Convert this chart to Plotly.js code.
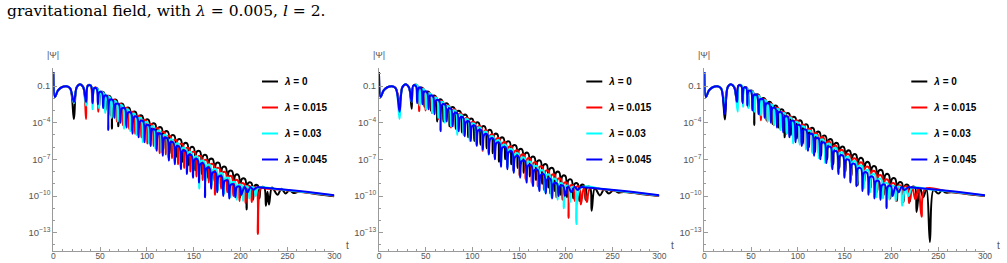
<!DOCTYPE html>
<html>
<head>
<meta charset="utf-8">
<script src="https://cdn.plot.ly/plotly-3.0.1.min.js"></script>
<style>html,body{margin:0;padding:0;background:#fff;}#plot{width:1007px;height:263px;}</style>
</head>
<body>
<div id="plot"></div>
<script>
// Values are [t, log10|Psi|] pairs
const lambdas = ['0', '0.015', '0.03', '0.045'];
const colors = ['#000000', '#ff0000', '#00ffff', '#0000ff'];
const xTicks = [0, 50, 100, 150, 200, 250, 300];
const yTickVals = [1e-1, 1e-4, 1e-7, 1e-10, 1e-13];
const yTickText = ['0.1', '10<sup>−4</sup>', '10<sup>−7</sup>', '10<sup>−10</sup>', '10<sup>−13</sup>'];
const yMinorVals = [1, 1e-2, 1e-3, 1e-5, 1e-6, 1e-8, 1e-9, 1e-11, 1e-12, 1e-14];

// ---- Panel 1 ----
const b1 = [[0,0.15],[1.8,-1.9],[5,-1.35],[9,-1.1],[14,-1.02],[18,-1.2],[22,-3.7],[25,-1.1],[28.5,-0.85],[32,-1.1],[35,-2.6],
[36.8,-0.97],[40.2,-0.97],[42,-2.3],[43.7,-1.2],[47.1,-1.2],[48.9,-2.7],[50.6,-1.53],[54,-1.53],[55.7,-3.0],[57.4,-1.85],[60.8,-1.85],[62.6,-4.5],
[64.3,-2.17],[67.7,-2.17],[69.4,-4.3],[71.1,-2.49],[74.5,-2.49],[76.3,-4.2],[78,-2.82],[81.4,-2.82],[83.1,-4.6],[84.8,-3.14],[88.2,-3.14],[90,-4.9],
[91.7,-3.46],[95.1,-3.46],[96.8,-5.2],[98.5,-3.78],[101.9,-3.78],[103.7,-5.5],[105.4,-4.1],[108.8,-4.1],[110.5,-5.8],[112.2,-4.42],[115.6,-4.42],[117.4,-6.2],
[119.1,-4.75],[122.5,-4.75],[124.2,-6.5],[125.9,-5.07],[129.3,-5.07],[131.1,-6.8],[132.8,-5.39],[136.2,-5.39],[137.9,-7.2],[139.6,-5.71],[143,-5.71],[144.8,-7.5],
[146.5,-6.04],[149.9,-6.04],[151.6,-7.9],[153.3,-6.36],[156.7,-6.36],[158.5,-8.2],[160.2,-6.68],[163.6,-6.68],[165.3,-8.5],[167,-7.0],[170.4,-7.0],[172.2,-8.8],
[173.9,-7.32],[177.3,-7.32],[179,-9.1],[180.7,-7.64],[184.1,-7.64],[185.9,-9.5],[187.6,-7.97],[191,-7.97],[192.7,-9.8],[194.4,-8.29],[197.8,-8.29],[199.6,-10.1],
[201.3,-8.61],[204.7,-8.61],[206.4,-11.1],[208.1,-8.93],[211.5,-8.93],[213.3,-10.3],[215,-9.15],[218.4,-9.15],[220.1,-10.2],[221.8,-9.3],[225.2,-9.3],[227,-10.8],
[228.7,-9.65],[230.3,-10.7],[233.5,-9.3],[239.5,-9.9],[243.5,-9.4],[248,-9.8],[252,-9.52],[256.5,-9.75],[262,-9.66],[280,-9.83],[300,-10.02]];
const r1 = [[0,0.15],[1.8,-1.9],[5,-1.35],[9,-1.1],[14,-1.02],[18,-1.2],[22,-2.4],[25,-1.1],[28.5,-0.85],[32,-1.1],[35,-3.7],
[36.7,-0.95],[39.9,-0.95],[41.6,-2.4],[43.2,-1.19],[46.4,-1.19],[48.1,-3.1],[49.8,-1.52],[53,-1.52],[54.7,-2.9],[56.3,-1.85],[59.5,-1.85],[61.2,-3.4],
[62.9,-2.18],[66.1,-2.18],[67.8,-3.9],[69.4,-2.5],[72.6,-2.5],[74.3,-4.2],[76,-2.83],[79.2,-2.83],[80.9,-4.5],[82.5,-3.16],[85.7,-3.16],[87.4,-4.9],
[89.1,-3.49],[92.3,-3.49],[94,-5.2],[95.6,-3.81],[98.8,-3.81],[100.5,-5.7],[102.2,-4.14],[105.4,-4.14],[107.1,-5.9],[108.7,-4.47],[111.9,-4.47],[113.6,-6.5],
[115.3,-4.8],[118.5,-4.8],[120.2,-6.6],[121.8,-5.12],[125,-5.12],[126.7,-6.9],[128.4,-5.45],[131.6,-5.45],[133.3,-7.4],[134.9,-5.78],[138.1,-5.78],[139.8,-7.7],
[141.5,-6.11],[144.7,-6.11],[146.4,-8.0],[148,-6.43],[151.2,-6.43],[152.9,-8.4],[154.6,-6.76],[157.8,-6.76],[159.5,-8.7],[161.1,-7.09],[164.3,-7.09],[166,-8.9],
[167.7,-7.42],[170.9,-7.42],[172.6,-9.9],[174.2,-7.74],[177.4,-7.74],[179.1,-9.4],[180.8,-8.07],[184,-8.07],[185.7,-9.7],[187.3,-8.4],[190.5,-8.4],[192.2,-10.0],
[193.9,-8.73],[197.1,-8.73],[198.8,-10.4],[200.4,-9.0],[203.6,-9.0],[205.3,-10.6],[207,-9.22],[210.2,-9.22],[211.9,-10.5],[213.6,-9.33],[216.7,-9.33],[218.4,-13.1],
[221.5,-9.35],[226,-9.38],[240,-9.47],[270,-9.72],[300,-9.98]];
const c1 = [[0,0.15],[1.8,-1.9],[5,-1.35],[9,-1.1],[14,-1.02],[18,-1.2],[22,-2.4],[25,-1.1],[28.5,-0.85],[32,-1.1],[35,-2.6],
[36.8,-0.97],[40.2,-0.97],[42,-2.9],[43.7,-1.23],[47.1,-1.23],[48.7,-2.8],[50.4,-1.58],[53.8,-1.58],[55.4,-3.2],[57.1,-1.93],[60.5,-1.93],[62.1,-3.6],
[63.8,-2.28],[67.2,-2.28],[68.8,-3.9],[70.5,-2.62],[73.9,-2.62],[75.5,-4.5],[77.1,-2.97],[80.5,-2.97],[82.1,-4.7],[83.8,-3.32],[87.2,-3.32],[88.8,-5.0],
[90.5,-3.66],[93.9,-3.66],[95.5,-5.6],[97.2,-4.01],[100.6,-4.01],[102.2,-5.7],[103.9,-4.36],[107.3,-4.36],[108.9,-6.1],[110.6,-4.71],[114,-4.71],[115.6,-6.4],
[117.3,-5.06],[120.7,-5.06],[122.3,-6.8],[124,-5.41],[127.4,-5.41],[129,-7.1],[130.7,-5.75],[134.1,-5.75],[135.7,-7.5],[137.4,-6.1],[140.8,-6.1],[142.4,-7.9],
[144.1,-6.45],[147.5,-6.45],[149.1,-8.1],[150.8,-6.8],[154.2,-6.8],[155.8,-9.4],[157.5,-7.15],[160.9,-7.15],[162.5,-8.8],[164.1,-7.49],[167.5,-7.49],[169.1,-9.1],
[170.8,-7.84],[174.2,-7.84],[175.8,-9.5],[177.5,-8.19],[180.9,-8.19],[182.5,-9.8],[184.2,-8.54],[187.6,-8.54],[189.2,-10.1],[190.9,-8.89],[194.3,-8.89],[195.9,-10.3],
[197.6,-9.12],[201,-9.12],[202.6,-10.4],[204.3,-9.27],[207.7,-9.27],[209.3,-10.2],[211,-9.33],[214.4,-9.33],[216,-10.0],[219,-9.33],[240,-9.45],[270,-9.7],[300,-9.96]];
const u1 = [[0,0.15],[1.8,-1.9],[5,-1.35],[9,-1.1],[14,-1.02],[18,-1.2],[22,-2.3],[25,-1.1],[28.5,-0.85],[32,-1.1],[35,-2.3],
[36.8,-0.97],[40.2,-0.97],[42,-2.4],[43.5,-1.2],[46.1,-1.2],[47.6,-2.5],[49.1,-1.5],[51.7,-1.5],[53.2,-2.8],[54.7,-1.8],[57.3,-1.8],[58.7,-4.6],
[60.3,-2.14],[63.6,-2.14],[65.2,-3.6],[66.8,-2.48],[70,-2.48],[71.6,-4.0],[73.3,-2.83],[76.5,-2.83],[78.1,-4.4],[79.7,-3.18],[82.9,-3.18],[84.5,-4.9],
[86.2,-3.53],[89.4,-3.53],[91,-5.2],[92.7,-3.88],[95.9,-3.88],[97.5,-5.6],[99.1,-4.23],[102.3,-4.23],[103.9,-5.9],[105.6,-4.58],[108.8,-4.58],[110.4,-6.3],
[112,-4.92],[115.2,-4.92],[116.8,-6.7],[118.5,-5.28],[121.7,-5.28],[123.3,-7.1],[125,-5.63],[128.2,-5.63],[129.8,-7.4],[131.4,-5.97],[134.6,-5.97],[136.2,-7.8],
[137.9,-6.32],[141.1,-6.32],[142.7,-8.2],[144.3,-6.67],[147.5,-6.67],[149.1,-8.5],[150.8,-7.02],[154,-7.02],[155.6,-8.9],[157.2,-7.37],[160.4,-7.37],[162,-10.1],
[163.7,-7.72],[166.9,-7.72],[168.5,-9.4],[170.2,-8.07],[173.4,-8.07],[175,-9.7],[176.6,-8.41],[179.8,-8.41],[181.4,-10.0],[183.1,-8.76],[186.3,-8.76],[187.9,-10.2],
[189.5,-9.08],[192.7,-9.08],[194.3,-10.1],[196,-9.26],[199.2,-9.26],[200.8,-9.9],[204.1,-9.25],[207.3,-9.7],[210.5,-9.28],[213.7,-9.5],[216.9,-9.3],[222,-9.3],
[240,-9.42],[270,-9.66],[300,-9.93]];

// ---- Panel 2 ----
const b2 = [[0,0.15],[1.8,-1.9],[5,-1.35],[9,-1.1],[14,-1.02],[18,-1.2],[22,-2.4],[25,-1.1],[28.5,-0.85],[32,-1.1],[35,-2.85],
[36.8,-0.97],[40.1,-0.97],[41.8,-2.3],[43.5,-1.19],[46.9,-1.19],[48.6,-2.7],[50.3,-1.51],[53.7,-1.51],[55.4,-3.0],[57.2,-1.84],[60.6,-1.84],[62.3,-3.9],
[64,-2.15],[67.2,-2.15],[68.9,-3.9],[70.6,-2.46],[73.8,-2.46],[75.5,-4.3],[77.2,-2.77],[80.4,-2.77],[82.1,-4.5],[83.8,-3.08],[87,-3.08],[88.7,-4.8],
[90.4,-3.4],[93.8,-3.4],[95.4,-5.2],[97.1,-3.71],[100.3,-3.71],[102,-5.5],[103.7,-4.02],[106.9,-4.02],[108.6,-5.8],[110.3,-4.33],[113.5,-4.33],[115.2,-6.1],
[116.9,-4.64],[120.1,-4.64],[121.8,-6.5],[123.5,-4.95],[126.7,-4.95],[128.4,-7.2],[130.1,-5.26],[133.3,-5.26],[135,-7.0],[136.7,-5.57],[139.9,-5.57],[141.6,-7.4],
[143.3,-5.89],[146.7,-5.89],[148.3,-7.7],[150,-6.2],[153.2,-6.2],[154.9,-8.1],[156.6,-6.51],[159.8,-6.51],[161.5,-8.4],[163.2,-6.82],[166.4,-6.82],[168.1,-8.7],
[169.8,-7.13],[173,-7.13],[174.7,-9.0],[176.4,-7.44],[179.6,-7.44],[181.3,-9.3],[183,-7.75],[186.4,-7.75],[188,-9.6],[189.7,-8.06],[192.9,-8.06],[194.6,-9.9],
[196.3,-8.37],[199.5,-8.37],[201.2,-10.1],[202.9,-8.68],[206.1,-8.68],[207.8,-10.2],[209.5,-8.99],[212.7,-8.99],[214.4,-10.4],[216.1,-9.12],[219.3,-9.12],[221,-10.3],
[222.7,-9.28],[225.9,-9.28],[227.6,-11.2],[231,-9.35],[236.5,-9.95],[241,-9.45],[246,-9.8],[251,-9.52],[256,-9.72],[262,-9.67],[280,-9.83],[300,-10.0]];
const r2 = [[0,0.15],[1.8,-1.9],[5,-1.35],[9,-1.1],[14,-1.02],[18,-1.2],[22,-2.4],[25,-1.1],[28.5,-0.85],[32,-1.1],[35,-2.3],
[37,-0.95],[41,-0.95],[43,-3.06],[44.7,-1.27],[48.1,-1.27],[49.8,-3.0],[51.5,-1.61],[54.9,-1.61],[56.6,-3.2],[58.3,-1.95],[61.7,-1.95],[63.4,-3.7],
[65.1,-2.29],[68.5,-2.29],[70.2,-3.9],[71.9,-2.63],[75.3,-2.63],[77,-4.4],[78.7,-2.97],[82.1,-2.97],[83.8,-4.6],[85.5,-3.31],[88.9,-3.31],[90.6,-5.0],
[92.3,-3.65],[95.7,-3.65],[97.4,-5.4],[99.1,-3.99],[102.5,-3.99],[104.2,-5.7],[105.9,-4.33],[109.3,-4.33],[111,-6.3],[112.7,-4.67],[115.9,-4.67],[117.6,-6.5],
[119.3,-5.0],[122.5,-5.0],[124.1,-6.9],[125.8,-5.32],[129,-5.32],[130.7,-7.2],[132.4,-5.65],[135.6,-5.65],[137.2,-7.6],[138.9,-5.98],[142.1,-5.98],[143.8,-7.9],
[145.5,-6.31],[148.7,-6.31],[150.4,-8.3],[152.1,-6.64],[155.3,-6.64],[156.9,-8.6],[158.6,-6.96],[161.8,-6.96],[163.5,-8.9],[165.2,-7.29],[168.4,-7.29],[170,-9.2],
[171.7,-7.62],[174.9,-7.62],[176.6,-9.5],[178.3,-7.95],[181.5,-7.95],[183.2,-9.8],[184.9,-8.28],[188.1,-8.28],[189.7,-10.1],[191.4,-8.6],[194.6,-8.6],[196.3,-10.3],
[198,-8.93],[201.2,-8.93],[202.9,-11.8],[204.6,-9.15],[207.8,-9.15],[209.5,-10.4],[211.2,-9.26],[214.4,-9.26],[216,-10.7],[219.3,-9.3],[222.5,-10.5],[226,-9.36],
[240,-9.47],[270,-9.72],[300,-9.98]];
const c2 = [[0,0.15],[1.8,-1.9],[5,-1.35],[9,-1.1],[14,-1.02],[18,-1.2],[22,-3.7],[25,-1.1],[28.5,-0.85],[32,-1.1],[35,-2.3],
[37.2,-0.95],[41.2,-0.95],[43.5,-2.6],[45.2,-1.31],[48.6,-1.31],[50.2,-2.9],[51.9,-1.66],[55.3,-1.66],[56.9,-3.2],[58.6,-2.01],[62,-2.01],[63.6,-3.6],
[65.3,-2.35],[68.7,-2.35],[70.3,-4.0],[72,-2.7],[75.4,-2.7],[77,-4.3],[78.7,-3.05],[82.1,-3.05],[83.7,-5.0],[85.4,-3.4],[88.8,-3.4],[90.4,-5.0],
[92.1,-3.75],[95.5,-3.75],[97.1,-5.5],[98.8,-4.1],[102.2,-4.1],[103.8,-5.8],[105.5,-4.44],[108.9,-4.44],[110.5,-6.2],[112.2,-4.79],[115.6,-4.79],[117.3,-6.6],
[119,-5.15],[122.4,-5.15],[124,-6.9],[125.7,-5.49],[129.1,-5.49],[130.7,-7.3],[132.4,-5.84],[135.8,-5.84],[137.4,-7.7],[139.1,-6.19],[142.5,-6.19],[144.1,-8.0],
[145.8,-6.54],[149.2,-6.54],[150.8,-8.4],[152.5,-6.89],[155.9,-6.89],[157.5,-8.7],[159.2,-7.24],[162.6,-7.24],[164.3,-9.1],[166,-7.59],[169.4,-7.59],[171,-9.4],
[172.7,-7.94],[176.1,-7.94],[177.7,-9.7],[179.4,-8.29],[182.8,-8.29],[184.4,-10.1],[186.1,-8.64],[189.5,-8.64],[191.1,-10.3],[192.8,-8.99],[196.2,-8.99],[197.8,-11.0],
[199.5,-9.2],[202.9,-9.2],[204.5,-10.5],[206.2,-9.3],[209.6,-9.3],[211.2,-12.3],[216,-9.32],[240,-9.45],[270,-9.7],[300,-9.96]];
const u2 = [[0,0.15],[1.8,-1.9],[5,-1.35],[9,-1.1],[14,-1.02],[18,-1.2],[22,-3.1],[25,-1.1],[28.5,-0.85],[32,-1.1],[35,-2.3],
[36.6,-0.97],[39.3,-0.97],[40.8,-2.4],[42.4,-1.15],[45,-1.15],[46.5,-2.5],[48.2,-1.48],[51.4,-1.48],[53,-2.9],[54.6,-1.82],[57.8,-1.82],[59.4,-3.3],
[61.1,-2.18],[64.3,-2.18],[65.9,-4.7],[67.6,-2.53],[70.8,-2.53],[72.4,-3.9],[74,-2.87],[77.2,-2.87],[78.8,-4.3],[80.5,-3.22],[83.7,-3.22],[85.3,-4.7],
[86.9,-3.57],[90.1,-3.57],[91.7,-5.1],[93.4,-3.92],[96.6,-3.92],[98.2,-5.5],[99.9,-4.27],[103.1,-4.27],[104.7,-5.9],[106.3,-4.62],[109.5,-4.62],[111.1,-6.2],
[112.8,-4.97],[116,-4.97],[117.6,-6.6],[119.2,-5.31],[122.4,-5.31],[124,-7.0],[125.7,-5.66],[128.9,-5.66],[130.5,-7.6],[132.3,-6.03],[135.7,-6.03],[137.4,-7.8],
[139.1,-6.39],[142.5,-6.39],[144.2,-8.1],[146,-6.77],[149.4,-6.77],[151.1,-8.5],[152.8,-7.13],[156.2,-7.13],[157.9,-8.9],[159.7,-7.51],[163.1,-7.51],[164.8,-9.2],
[166.5,-7.87],[169.9,-7.87],[171.6,-9.6],[173.4,-8.25],[176.8,-8.25],[178.5,-9.8],[180.2,-8.61],[183.6,-8.61],[185.3,-10.2],[187.1,-8.97],[190.5,-8.97],[192.2,-10.0],
[193.9,-9.18],[197.3,-9.18],[199,-10.0],[202.5,-9.2],[205.9,-9.7],[209.3,-9.25],[212.7,-9.5],[216,-9.28],[222,-9.3],[240,-9.42],[270,-9.66],[300,-9.93]];

// ---- Panel 3 ----
const b3 = [[0,0.15],[1.8,-1.9],[5,-1.35],[9,-1.1],[14,-1.02],[18,-1.2],[22,-3.73],[25,-1.1],[28.5,-0.85],[32,-1.1],[35,-2.4],
[36.5,-0.97],[39.5,-0.97],[41,-2.3],[42.6,-1.14],[45.6,-1.14],[47.2,-2.7],[48.8,-1.43],[51.8,-1.43],[53.4,-4.2],[55.1,-1.73],[58.3,-1.73],[59.9,-3.4],
[61.6,-2.04],[64.8,-2.04],[66.4,-3.8],[68.1,-2.35],[71.3,-2.35],[72.9,-4.1],[74.6,-2.65],[77.8,-2.65],[79.4,-4.4],[81.1,-2.96],[84.3,-2.96],[85.9,-5.2],
[87.6,-3.26],[90.8,-3.26],[92.4,-5.0],[94.1,-3.57],[97.3,-3.57],[98.9,-5.3],[100.6,-3.87],[103.8,-3.87],[105.4,-5.7],[107.1,-4.18],[110.3,-4.18],[111.9,-6.0],
[113.6,-4.48],[116.8,-4.48],[118.4,-6.4],[120.1,-4.79],[123.3,-4.79],[124.9,-6.7],[126.6,-5.1],[129.8,-5.1],[131.4,-7.0],[133.1,-5.4],[136.3,-5.4],[137.9,-7.4],
[139.6,-5.71],[142.8,-5.71],[144.4,-7.7],[146.1,-6.01],[149.3,-6.01],[150.9,-8.0],[152.6,-6.32],[155.8,-6.32],[157.4,-8.3],[159.1,-6.62],[162.3,-6.62],[163.9,-9.1],
[165.7,-6.94],[169.1,-6.94],[170.9,-8.9],[172.7,-7.27],[176.1,-7.27],[177.9,-9.3],[179.7,-7.6],[183.1,-7.6],[184.9,-9.6],[186.7,-7.92],[190.1,-7.92],[191.9,-9.9],
[193.7,-8.25],[197.1,-8.25],[198.9,-10.2],[200.7,-8.58],[204.1,-8.58],[205.9,-10.4],[207.7,-8.91],[211.1,-8.91],[212.9,-10.5],[214.7,-9.12],[218.1,-9.12],[219.9,-10.4],
[221.7,-9.28],[225.1,-9.28],[226.9,-11.3],[230.5,-9.35],[234,-10.1],[237.5,-9.4],[241.1,-13.76],[245,-9.5],[250,-9.8],[254,-9.55],[258,-9.72],[264,-9.69],[282,-9.85],[300,-10.0]];
const r3 = [[0,0.15],[1.8,-1.9],[5,-1.35],[9,-1.1],[14,-1.02],[18,-1.2],[22,-2.4],[25,-1.1],[28.5,-0.85],[32,-1.1],[35,-2.3],
[36.5,-0.95],[39.5,-0.95],[41,-2.4],[42.5,-1.15],[45.3,-1.15],[46.8,-2.7],[48.5,-1.46],[51.9,-1.46],[53.6,-3.0],[55.4,-1.81],[58.8,-1.81],[60.5,-3.8],
[62.3,-2.15],[65.7,-2.15],[67.4,-3.9],[69.1,-2.49],[72.5,-2.49],[74.2,-4.2],[76,-2.84],[79.4,-2.84],[81.1,-4.5],[82.9,-3.18],[86.3,-3.18],[88,-4.9],
[89.8,-3.53],[93.2,-3.53],[94.9,-5.2],[96.6,-3.87],[100,-3.87],[101.7,-5.6],[103.5,-4.21],[106.9,-4.21],[108.6,-5.9],[110.4,-4.56],[113.8,-4.56],[115.5,-6.4],
[117.3,-4.9],[120.7,-4.9],[122.4,-6.6],[124.1,-5.24],[127.5,-5.24],[129.2,-7.0],[131,-5.59],[134.4,-5.59],[136.1,-7.3],[137.9,-5.93],[141.3,-5.93],[143,-7.9],
[144.8,-6.28],[148.2,-6.28],[149.9,-8.0],[151.7,-6.62],[155.1,-6.62],[156.8,-8.4],[158.6,-6.97],[162,-6.97],[163.7,-8.7],[165.5,-7.31],[168.9,-7.31],[170.6,-9.0],
[172.3,-7.65],[175.7,-7.65],[177.5,-9.4],[179.2,-8.0],[182.6,-8.0],[184.4,-9.7],[186.1,-8.34],[189.5,-8.34],[191.3,-10.0],[193,-8.69],[196.4,-8.69],[198.2,-10.2],
[200,-9.0],[203.4,-9.0],[205.1,-10.4],[206.9,-9.18],[210.3,-9.18],[212,-10.5],[213.8,-9.26],[217.2,-9.26],[218.9,-10.6],[222.3,-9.3],[225.6,-10.3],[228.9,-9.36],
[232.2,-11.7],[236,-9.43],[260,-9.63],[300,-9.98]];
const c3 = [[0,0.15],[1.8,-1.9],[5,-1.35],[9,-1.1],[14,-1.02],[18,-1.2],[22,-2.4],[25,-1.1],[28.5,-0.85],[32,-1.1],[35.7,-3.1],
[37.2,-0.95],[40,-0.95],[41.5,-2.7],[42.9,-1.17],[45.7,-1.17],[47.05,-2.8],[48.8,-1.5],[52.2,-1.5],[53.9,-3.1],[55.6,-1.85],[59,-1.85],[60.75,-3.4],
[62.5,-2.21],[65.9,-2.21],[67.6,-3.9],[69.3,-2.56],[72.7,-2.56],[74.45,-4.2],[76.2,-2.92],[79.6,-2.92],[81.3,-4.6],[83,-3.27],[86.4,-3.27],[88.15,-4.9],
[89.9,-3.63],[93.3,-3.63],[95,-5.7],[96.7,-3.99],[100.1,-3.99],[101.85,-5.8],[103.6,-4.35],[107,-4.35],[108.7,-6.2],[110.4,-4.7],[113.8,-4.7],[115.55,-6.5],
[117.3,-5.06],[120.7,-5.06],[122.4,-6.9],[124.1,-5.41],[127.5,-5.41],[129.25,-7.3],[131,-5.77],[134.4,-5.77],[136.1,-7.6],[137.8,-6.12],[141.2,-6.12],[142.95,-8.0],
[144.7,-6.48],[148.1,-6.48],[149.8,-8.3],[151.5,-6.84],[154.9,-6.84],[156.65,-8.7],[158.4,-7.2],[161.8,-7.2],[163.5,-9.0],[165.2,-7.55],[168.6,-7.55],[170.35,-9.4],
[172.1,-7.91],[175.5,-7.91],[177.2,-9.7],[178.9,-8.26],[182.3,-8.26],[184.05,-10.1],[185.8,-8.62],[189.2,-8.62],[190.9,-10.2],[192.6,-8.97],[196,-8.97],[197.75,-10.3],
[199.5,-9.2],[202.9,-9.2],[204.6,-10.4],[206.3,-9.28],[209.7,-9.28],[211.45,-10.8],[214.9,-9.3],[218.3,-10.0],[222,-9.33],[240,-9.44],[270,-9.69],[300,-9.96]];
const u3 = [[0,0.15],[1.8,-1.9],[5,-1.35],[9,-1.1],[14,-1.02],[18,-1.2],[22,-3.3],[25,-1.1],[28.5,-0.85],[32,-1.1],[35,-2.3],
[36.5,-0.97],[39.5,-0.97],[41,-2.4],[42.3,-1.14],[44.7,-1.14],[46,-2.6],[47.3,-1.41],[49.9,-1.41],[51.3,-3.0],[53,-1.74],[56.2,-1.74],[57.9,-3.3],
[59.6,-2.09],[62.8,-2.09],[64.5,-3.6],[66.2,-2.45],[69.4,-2.45],[71.1,-4.0],[72.8,-2.81],[76,-2.81],[77.7,-4.4],[79.4,-3.16],[82.6,-3.16],[84.3,-4.8],
[86,-3.52],[89.2,-3.52],[90.9,-5.2],[92.6,-3.88],[95.8,-3.88],[97.5,-5.6],[99.2,-4.23],[102.4,-4.23],[104.1,-5.9],[105.8,-4.59],[109,-4.59],[110.7,-6.3],
[112.4,-4.95],[115.6,-4.95],[117.3,-6.7],[119,-5.3],[122.2,-5.3],[123.9,-7.0],[125.6,-5.66],[128.8,-5.66],[130.5,-7.3],[132.1,-6.01],[135.3,-6.01],[136.9,-7.8],
[138.5,-6.36],[141.7,-6.36],[143.3,-8.2],[145,-6.71],[148.2,-6.71],[149.8,-8.5],[151.4,-7.05],[154.6,-7.05],[156.2,-8.9],[157.8,-7.4],[161,-7.4],[162.6,-9.2],
[164.2,-7.74],[167.4,-7.74],[169,-9.6],[170.7,-8.09],[173.9,-8.09],[175.5,-9.9],[177.1,-8.44],[180.3,-8.44],[181.9,-10.2],[183.5,-8.79],[186.7,-8.79],[188.3,-10.3],
[190,-9.1],[193.2,-9.1],[194.8,-11.0],[196.4,-9.2],[199.6,-9.2],[201.2,-10.0],[204.4,-9.22],[207.6,-9.7],[210.8,-9.26],[214,-9.5],[218,-9.28],[222,-9.3],
[240,-9.42],[270,-9.66],[300,-9.93]];

const panels = [[b1, r1, c1, u1], [b2, r2, c2, u2], [b3, r3, c3, u3]];

const W = 1007, H = 263;
const px = v => v / W;
const py = v => 1 - v / H;
const xDomains = [[53.3, 334.3], [379, 659.3], [704.3, 985]];
const legendLeft = [245, 569.3, 894.3];

const traces = [];
panels.forEach((series, p) => {
  const sfx = p === 0 ? '' : String(p + 1);
  series.forEach((d, i) => {
    traces.push({
      type: 'scatter', mode: 'lines',
      x: d.map(q => q[0]),
      y: d.map(q => Math.pow(10, q[1])),
      xaxis: 'x' + sfx, yaxis: 'y' + sfx,
      legend: 'legend' + sfx,
      legendgroup: 'g' + p + '_' + i,
      name: '<b><i>λ</i> = ' + lambdas[i] + '</b>',
      line: {color: colors[i], width: 2, shape: 'spline', smoothing: 1},
      hoverinfo: 'skip'
    });
  });
});

const axisCommon = {
  showline: true, linecolor: '#9a9a9a', linewidth: 1,
  ticks: 'inside', tickcolor: '#9a9a9a', tickwidth: 1,
  showgrid: false, zeroline: false,
  tickfont: {family: 'Liberation Sans, Arial, sans-serif', size: 9.5, color: '#555'}
};

const layout = {
  width: W, height: H,
  margin: {l: 0, r: 0, t: 0, b: 0},
  paper_bgcolor: '#fff', plot_bgcolor: 'rgba(0,0,0,0)',
  showlegend: true,
  annotations: [{
    xref: 'paper', yref: 'paper', x: px(5), y: py(0), xanchor: 'left', yanchor: 'top',
    text: 'gravitational field, with <i>λ</i> = 0.005, <i>l</i> = 2.',
    showarrow: false, font: {family: 'DejaVu Serif, serif', size: 15.5, color: '#000'}
  }]
};

for (let p = 0; p < 3; p++) {
  const sfx = p === 0 ? '' : String(p + 1);
  layout['xaxis' + sfx] = Object.assign({}, axisCommon, {
    domain: [px(xDomains[p][0]), px(xDomains[p][1])],
    range: [0, 300], anchor: 'y' + sfx,
    tickmode: 'array', tickvals: xTicks, ticklen: 4,
    tickfont: {family: 'Liberation Sans, Arial, sans-serif', size: 8.5, color: '#555'},
    ticklabelstandoff: -3,
    minor: {dtick: 10, tick0: 0, ticklen: 2, ticks: 'inside', tickcolor: '#9a9a9a'}
  });
  layout['yaxis' + sfx] = Object.assign({}, axisCommon, {
    type: 'log', domain: [py(251), py(67.7)], range: [-14.5, 0.5], anchor: 'x' + sfx,
    tickmode: 'array', tickvals: yTickVals, ticktext: yTickText, ticklen: 4,
    minor: {tickmode: 'array', tickvals: yMinorVals, ticklen: 2, ticks: 'inside', tickcolor: '#9a9a9a'}
  });
  layout['legend' + sfx] = {
    x: px(legendLeft[p]), xanchor: 'left', y: py(67), yanchor: 'top',
    bgcolor: 'rgba(0,0,0,0)', borderwidth: 0,
    font: {family: 'Liberation Sans, Arial, sans-serif', size: 10, color: '#000'},
    tracegroupgap: 7, itemwidth: 30
  };
  layout.annotations.push({
    xref: 'paper', yref: 'paper', x: px(xDomains[p][0]), y: py(55), xanchor: 'center', yanchor: 'middle',
    text: '|Ψ|', showarrow: false, font: {family: 'Liberation Sans, Arial, sans-serif', size: 9, color: '#555'}
  });
  layout.annotations.push({
    xref: 'paper', yref: 'paper', x: px(xDomains[p][1] + 13), y: py(245), xanchor: 'center', yanchor: 'middle',
    text: 't', showarrow: false, font: {family: 'Liberation Sans, Arial, sans-serif', size: 10, color: '#555'}
  });
}

Plotly.newPlot('plot', traces, layout, {staticPlot: true, displayModeBar: false}).then(() => {
  document.querySelectorAll('.legendlines path').forEach(el => el.setAttribute('d', 'M17,0h16'));
});
</script>
</body>
</html>
